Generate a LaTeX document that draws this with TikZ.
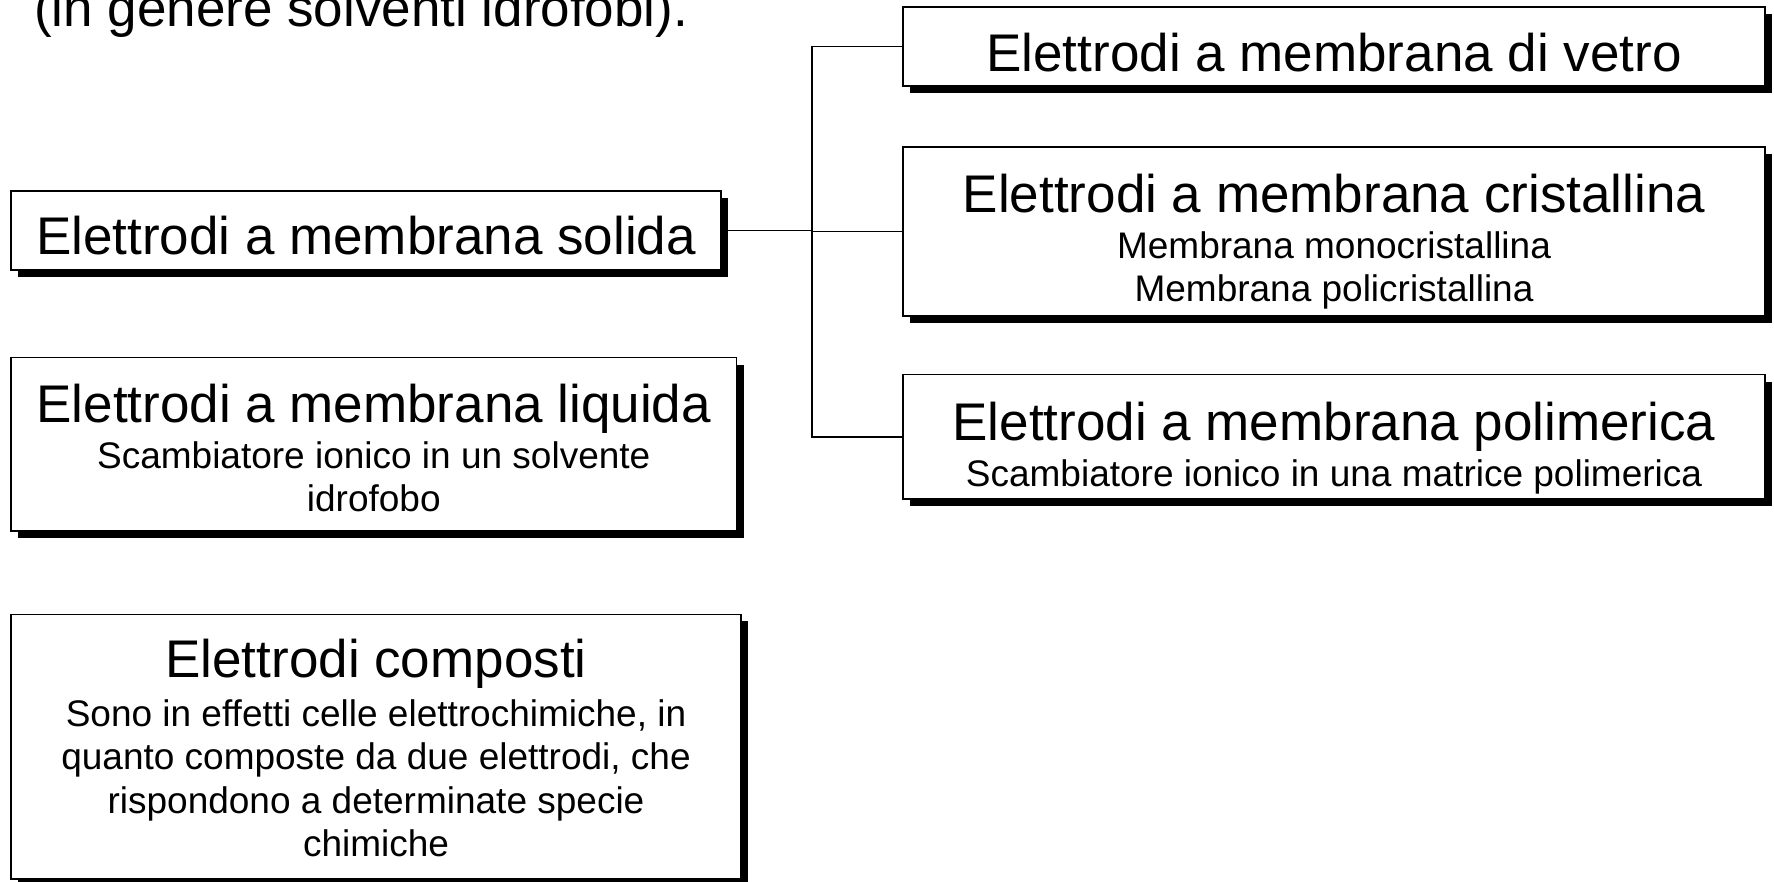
\documentclass[tikz,border=0pt]{standalone}
\usepackage{fontspec}
\setmainfont{Liberation Sans}
\usetikzlibrary{shadows}
\tikzset{
  box/.style={draw, fill=white, line width=1.8pt, inner sep=0pt,
    drop shadow={fill=black, opacity=1, shadow xshift=7pt, shadow yshift=-7pt}},
  ttl/.style={inner sep=0pt, anchor=base, font=\fontsize{53}{60}\selectfont},
  sub/.style={inner sep=0pt, anchor=base, font=\fontsize{37}{43}\selectfont},
  conn/.style={line width=1.8pt}
}
\begin{document}
\begin{tikzpicture}[x=1pt,y=-1pt]
\useasboundingbox (0,0) rectangle (1774,881);
\node[ttl, anchor=base west] (top) at (34,26) {(in genere solventi idrofobi).};
% boxes
\node[box, minimum width=710pt, minimum height=79pt] (A) at (366,230.5) {};
\node[box, minimum width=862pt, minimum height=79pt] (B) at (1334,46.5) {};
\node[box, minimum width=862pt, minimum height=169pt] (C) at (1334,231.5) {};
\node[box, minimum width=862pt, minimum height=124.5pt] (D) at (1334,436.75) {};
\node[box, minimum width=725.5pt, minimum height=173.5pt] (E) at (373.75,444.25) {};
\node[box, minimum width=730pt, minimum height=264.6pt] (F) at (376,746.7) {};
% texts
\node[ttl] (At) at (366,254.6) {Elettrodi a membrana solida};
\node[ttl] (Bt) at (1334,71.3) {Elettrodi a membrana di vetro};
\node[ttl] (Ct) at (1334,212.7) {Elettrodi a membrana cristallina};
\node[sub] (C1) at (1334,258) {Membrana monocristallina};
\node[sub] (C2) at (1334,301) {Membrana policristallina};
\node[ttl] (Dt) at (1334,440) {Elettrodi a membrana polimerica};
\node[sub] (D1) at (1334,486.5) {Scambiatore ionico in una matrice polimerica};
\node[ttl] (Et) at (373.75,422) {Elettrodi a membrana liquida};
\node[sub] (E1) at (373.75,468.4) {Scambiatore ionico in un solvente};
\node[sub] (E2) at (373.75,511) {idrofobo};
\node[ttl] (Ft) at (376,677.7) {Elettrodi composti};
\node[sub] (F1) at (376,726) {Sono in effetti celle elettrochimiche, in};
\node[sub] (F2) at (376,769) {quanto composte da due elettrodi, che};
\node[sub] (F3) at (376,813) {rispondono a determinate specie};
\node[sub] (F4) at (376,856.5) {chimiche};
% connectors
\coordinate (t) at (812,0);
\draw[conn] (A.east) -- (A.east -| t);
\draw[conn] (B.west) -- (B.west -| t) -- (D.west -| t) -- (D.west);
\draw[conn] (C.west) -- (C.west -| t);
\end{tikzpicture}
\end{document}
